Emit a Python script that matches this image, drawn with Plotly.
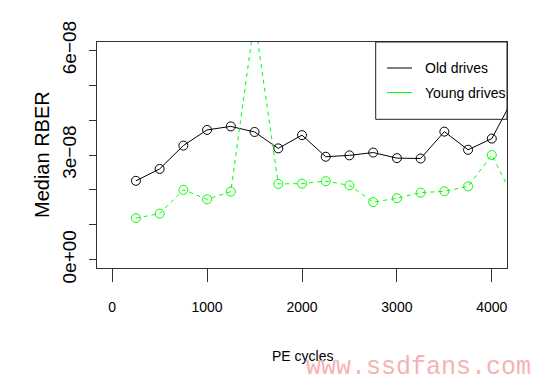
import plotly.graph_objects as go

pe_cycles = [250, 500, 750, 1000, 1250, 1500, 1750, 2000, 2250, 2500, 2750, 3000, 3250, 3500, 3750, 4000, 4250]
old_rber = [2.26e-8, 2.60e-8, 3.27e-8, 3.72e-8, 3.82e-8, 3.66e-8, 3.19e-8, 3.57e-8, 2.95e-8, 2.99e-8,
            3.07e-8, 2.91e-8, 2.90e-8, 3.67e-8, 3.15e-8, 3.47e-8, 4.75e-8]
young_rber = [1.19e-8, 1.32e-8, 2.00e-8, 1.73e-8, 1.95e-8, 6.9e-8, 2.17e-8, 2.18e-8, 2.25e-8, 2.13e-8,
              1.65e-8, 1.76e-8, 1.92e-8, 1.96e-8, 2.10e-8, 3.00e-8, 1.66e-8]

x_tickvals = [0, 1000, 2000, 3000, 4000]
x_ticktext = ["0", "1000", "2000", "3000", "4000"]
y_tickvals = [0, 1e-8, 2e-8, 3e-8, 4e-8, 5e-8, 6e-8]
y_ticktext = ["0e+00", "", "", "3e\u221208", "", "", "6e\u221208"]

series_names = ["Old drives", "Young drives"]
BLACK = "#000000"
GREEN = "#00ff00"
AXC = "#333333"

fig = go.Figure()
fig.add_trace(go.Scatter(
    x=pe_cycles, y=old_rber, mode="lines+markers", name=series_names[0],
    line=dict(color=BLACK, width=1),
    marker=dict(symbol="circle-open", size=9, color=BLACK, line=dict(width=1)),
    showlegend=False))
fig.add_trace(go.Scatter(
    x=pe_cycles, y=young_rber, mode="lines+markers", name=series_names[1],
    line=dict(color=GREEN, width=1, dash="4px,4px"),
    marker=dict(symbol="circle-open", size=9, color=GREEN, line=dict(width=1)),
    showlegend=False))

sans = "Liberation Sans, Arial, Helvetica, sans-serif"

fig.update_layout(
    width=535, height=383,
    margin=dict(l=97, r=28, t=42, b=115),
    paper_bgcolor="white", plot_bgcolor="white",
    showlegend=False,
    xaxis=dict(
        range=[-160, 4160], showgrid=False, zeroline=False,
        showline=True, linecolor=AXC, linewidth=1, mirror=True,
        ticks="outside", ticklen=13, tickcolor=AXC, tickwidth=1,
        tickvals=x_tickvals, ticktext=x_ticktext,
        tickfont=dict(family=sans, size=14, color="black"),
        ticklabelstandoff=13,
    ),
    yaxis=dict(
        range=[-0.24e-8, 6.24e-8], showgrid=False, zeroline=False,
        showline=True, linecolor=AXC, linewidth=1, mirror=True,
        ticks="outside", ticklen=7, tickcolor=AXC, tickwidth=1,
        tickvals=y_tickvals, ticktext=y_ticktext, tickangle=-90,
        tickfont=dict(family=sans, size=19, color="black"),
        ticklabelstandoff=5,
    ),
)

def px_x(X):
    return (X - 97) / 410.0

def px_y(Y):
    return (268 - Y) / 226.0

# axis titles
fig.add_annotation(xref="paper", yref="paper", x=px_x(302), y=px_y(356),
                   xanchor="center", yanchor="middle", showarrow=False,
                   text="PE cycles", font=dict(family=sans, size=14, color="black"))
fig.add_annotation(xref="paper", yref="paper", x=px_x(42), y=px_y(155),
                   xanchor="center", yanchor="middle", showarrow=False, textangle=-90,
                   text="Median RBER", font=dict(family=sans, size=20, color="black"))

# legend box (R style)
fig.add_shape(type="rect", xref="paper", yref="paper",
              x0=px_x(375.7), x1=1.0, y0=px_y(119.3), y1=1.0,
              line=dict(color="#222222", width=1), fillcolor="rgba(0,0,0,0)", layer="above")
legend_colors = [BLACK, GREEN]
legend_rows = [68, 92.5]
for name, col, ry in zip(series_names, legend_colors, legend_rows):
    fig.add_shape(type="line", xref="paper", yref="paper",
                  x0=px_x(387), x1=px_x(412), y0=px_y(ry), y1=px_y(ry),
                  line=dict(color=col, width=1))
    fig.add_annotation(xref="paper", yref="paper", x=px_x(423), y=px_y(ry),
                       xanchor="left", yanchor="middle", showarrow=False,
                       text=name, font=dict(family=sans, size=14, color="black"))

# watermark
fig.add_annotation(xref="paper", yref="paper", x=px_x(305), y=px_y(383),
                   xanchor="left", yanchor="bottom", showarrow=False, borderpad=0,
                   text="www.ssdfans.com",
                   font=dict(family="Liberation Mono, Courier New, monospace", size=25, color="#f3b4b4"))

fig.write_html("out.html", config={"displayModeBar": False},
               post_script="document.body.style.margin='0px';document.body.style.overflow='hidden';")
